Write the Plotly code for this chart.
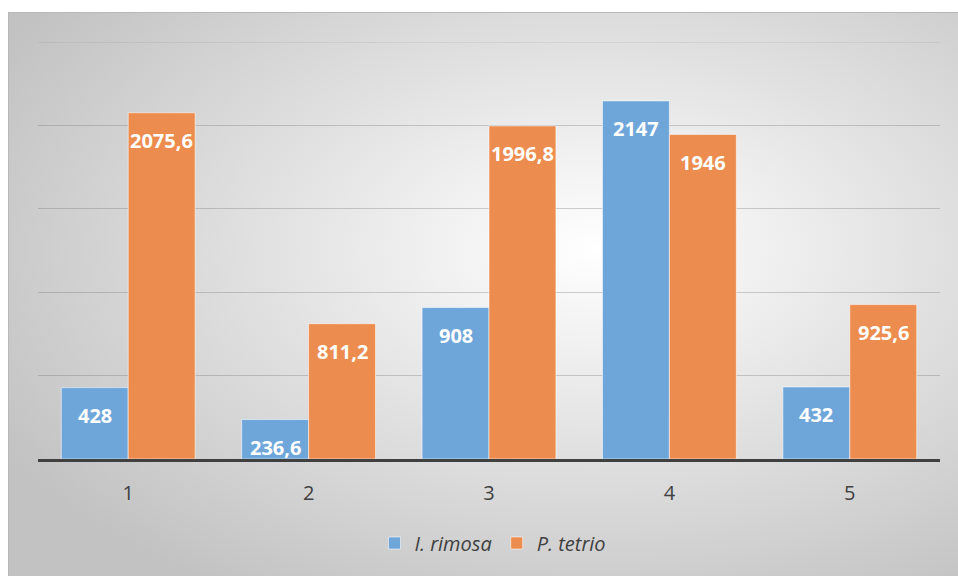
import base64
import plotly.graph_objects as go

categories = [1, 2, 3, 4, 5]
tick_labels = ["1", "2", "3", "4", "5"]
series_names = ["I. rimosa", "P. tetrio"]
rimosa = [428, 236.6, 908, 2147, 432]
tetrio = [2075.6, 811.2, 1996.8, 1946, 925.6]

colors = ["#6fa6da", "#ec8c4e"]

W, H = 958, 576
L, R, T, B = 38, 940, 42, 459  # plot area px


def fmt(v):
    return f"{v:g}".replace(".", ",")


# radial gradient background for chart area
svg = f'''<svg xmlns="http://www.w3.org/2000/svg" width="950" height="564" viewBox="0 0 950 564">
<defs><radialGradient id="g" cx="0.62" cy="0.42" r="0.72">
<stop offset="0" stop-color="#ffffff"/><stop offset="1" stop-color="#c2c2c2"/></radialGradient></defs>
<rect x="0" y="0" width="950" height="564" fill="url(#g)"/>
<line x1="0" y1="0.5" x2="950" y2="0.5" stroke="#b8b8b8" stroke-width="1"/>
<line x1="0.5" y1="0" x2="0.5" y2="564" stroke="#b8b8b8" stroke-width="1"/>
</svg>'''
src = "data:image/svg+xml;base64," + base64.b64encode(svg.encode()).decode()

pw, ph = R - L, B - T

fig = go.Figure()
bw = 0.371
for name, vals, col, off in [
    (series_names[0], rimosa, colors[0], -bw),
    (series_names[1], tetrio, colors[1], 0.0),
]:
    fig.add_trace(go.Bar(
        x=categories, y=vals, name=name,
        width=bw, offset=off,
        marker=dict(color=col, line=dict(color="rgba(255,255,255,0.55)", width=1)),
        hoverinfo="skip",
    ))
    for c, v in zip(categories, vals):
        fig.add_annotation(
            x=c + off + bw / 2, y=v, yshift=-28, text=fmt(v), showarrow=False,
            font=dict(family="Open Sans", size=20, color="white", weight="bold"),
            xanchor="center", yanchor="middle",
        )

fig.add_layout_image(
    source=src, xref="paper", yref="paper",
    x=(8 - L) / pw, y=(B - 12) / ph,
    sizex=950 / pw, sizey=564 / ph,
    xanchor="left", yanchor="top", sizing="stretch", layer="below",
)

# top gridline at the range edge
fig.add_shape(type="line", xref="paper", yref="y", x0=0, x1=1, y0=2500, y1=2500,
              line=dict(color="rgba(120,120,120,0.25)", width=1), layer="below")

fig.update_layout(
    width=W, height=H,
    margin=dict(l=L, r=W - R, t=T, b=H - B),
    paper_bgcolor="white", plot_bgcolor="rgba(0,0,0,0)",
    barmode="overlay",
    showlegend=True,
    legend=dict(
        orientation="h", x=(493 - L) / pw, xanchor="center", y=(B - 543) / ph, yanchor="middle",
        font=dict(family="Open Sans", size=20, color="#404040", style="italic"),
        bgcolor="rgba(0,0,0,0)", itemwidth=30, traceorder="normal",
    ),
    xaxis=dict(
        range=[0.5, 5.5], tickvals=categories, ticktext=tick_labels,
        showgrid=False, zeroline=False, showline=True, linewidth=3, linecolor="#404040",
        ticks="", tickfont=dict(family="Open Sans", size=20, color="#404040"),
        ticklabelstandoff=14,
    ),
    yaxis=dict(
        range=[0, 2500], dtick=500, showticklabels=False, ticks="",
        showgrid=True, gridcolor="rgba(120,120,120,0.35)", gridwidth=1,
        zeroline=False, showline=False,
    ),
)

fig.write_html("out.html")
